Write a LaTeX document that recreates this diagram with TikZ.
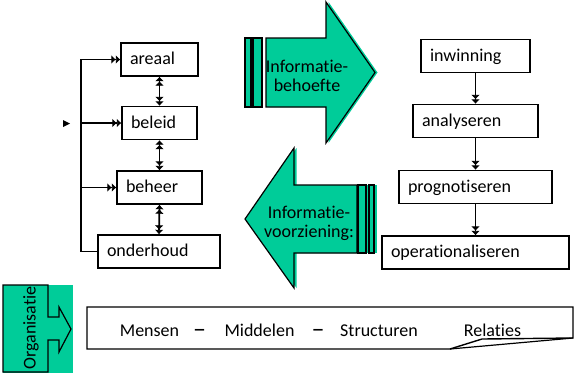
\documentclass[tikz,border=0pt]{standalone}
\usepackage{fontspec}
\setmainfont{Carlito}[Ligatures=NoCommon]
\usetikzlibrary{arrows.meta,positioning}
\definecolor{infogreen}{RGB}{0,204,153}

\begin{document}
\begin{tikzpicture}[x=1pt, y=-1pt, font=\fontsize{18}{19}\selectfont,
    box/.style={draw, line width=1.4pt, minimum height=33pt, inner xsep=9pt,
        inner ysep=0pt, text height=14pt, text depth=4pt, align=left},
    flow/.style={line width=1.8pt, -{Latex[length=4.5pt,width=9pt]Latex[length=4.5pt,width=9pt]}},
    both/.style={line width=1.8pt, {Latex[length=4.5pt,width=9pt]Latex[length=4.5pt,width=9pt]}-{Latex[length=4.5pt,width=9pt]Latex[length=4.5pt,width=9pt]}},
    bigarrow/.style={draw, fill=infogreen, line width=1.2pt}]
    \useasboundingbox (0,0) rectangle (577,376);

    % left column
    \node[box, text width=59pt] (areaal) at (159.5,59.5) {areaal};
    \node[box, text width=57pt] (beleid) at (159.5,123) {beleid};
    \node[box, text width=67pt] (beheer) at (159.5,187.5) {beheer};
    \node[box, text width=104pt] (onderhoud) at (159,251.5) {onderhoud};
    \draw[both] (areaal.south) -- (beleid.north);
    \draw[both] (beleid.south) -- (beheer.north);
    \draw[both] (beheer.south) -- (onderhoud.north);
    \draw[flow] (onderhoud.west) -- ++(-16,0) coordinate (bus) |- (areaal.west);
    \draw[flow] (bus |- beleid.west) -- (beleid.west);
    \draw[flow] (bus |- beheer.west) -- (beheer.west);
    \fill (63,120) -- (70,123.5) -- (63,127) -- cycle;

    % right column
    \node[box, text width=91pt] (inwinning) at (475.5,56) {inwinning};
    \node[box, text width=107pt] (analyseren) at (475.5,121) {analyseren};
    \node[box, text width=135pt] (prognotiseren) at (475.5,187) {prognotiseren};
    \node[box, text width=169pt] (operationaliseren) at (475.5,252.5) {operationaliseren};
    \draw[flow] (inwinning) -- (analyseren);
    \draw[flow] (analyseren) -- (prognotiseren);
    \draw[flow] (prognotiseren) -- (operationaliseren);

    % big arrows
    \fill[infogreen, xshift=2.5] (266,38) -- (326,38) -- (326,2) -- (375,72.5) -- (326,143) -- (326,107) -- (266,107) -- cycle;
    \draw[bigarrow] (266,38) -- (326,38) -- (326,2) -- (375,72.5) -- (326,143) -- (326,107) -- (266,107) -- cycle;
    \draw[bigarrow] (245,38) rectangle (251,107);
    \draw[bigarrow] (253,38) rectangle (262,107);
    \node[align=center, inner sep=0pt] (behoefte) at (307,76) {Informatie-\\behoefte};

    \fill[infogreen, xshift=2.5] (357,185) -- (294,185) -- (294,148) -- (245,219) -- (294,288) -- (294,253) -- (357,253) -- cycle;
    \fill[infogreen, xshift=2.5] (358,185) rectangle (374,253);
    \draw[bigarrow] (357,185) -- (294,185) -- (294,148) -- (245,219) -- (294,288) -- (294,253) -- (357,253) -- cycle;
    \draw[bigarrow] (358,185) rectangle (366,253);
    \draw[bigarrow] (369,185) rectangle (374,253);
    \node[align=center, inner sep=0pt] (voorziening) at (309,223) {Informatie-\\voorziening:};

    % organisatie
    \fill[infogreen] (3,285) rectangle (73,373);
    \draw[line width=1.2pt] (3,285) -- (48,285) -- (48,317) -- (59,317) -- (59,307) -- (71,329)
        -- (59,352) -- (59,340) -- (48,340) -- (48,372) -- (3,372) -- cycle;
    \node[rotate=90, inner sep=0pt] (organisatie) at (31,328) {Organisatie};

    % banner
    \draw[line width=1.4pt] (87,307) -- (573,307) -- (573,338) -- (482,339) -- (450,349) -- (87,349) -- cycle;
    \draw[line width=1.2pt] (450,349) -- (573,338);
    \node[anchor=base] (mensen) at (149.5,336) {Mensen};
    \node[anchor=base, font=\fontsize{26}{26}\selectfont] (dasha) at (199.5,337) {–};
    \node[anchor=base] (middelen) at (259.5,336) {Middelen};
    \node[anchor=base, font=\fontsize{26}{26}\selectfont] (dashb) at (318,337) {–};
    \node[anchor=base] (structuren) at (379,336) {Structuren};
    \node[anchor=base] (relaties) at (492.5,336) {Relaties};
\end{tikzpicture}
\end{document}
